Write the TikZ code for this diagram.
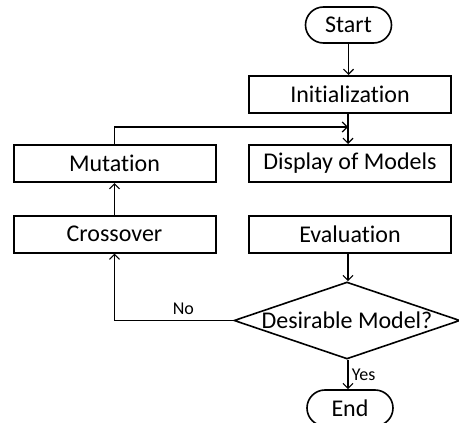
\documentclass[tikz,border=0pt]{standalone}
\usepackage{fontspec}
\setmainfont{Carlito}[Ligatures=NoCommon]
\usetikzlibrary{arrows.meta,shapes.misc,shapes.geometric}

\begin{document}
\begin{tikzpicture}[x=1pt,y=-1pt,>={Straight Barb[length=5pt,width=10pt]},
  font=\fontsize{24}{28}\selectfont,
  stepbox/.style={draw,line width=2pt,minimum width=202pt,minimum height=37pt,inner sep=0pt},
  terminal/.style={draw,rounded rectangle,line width=1.6pt,minimum width=86pt,minimum height=36pt,inner sep=0pt},
  flow/.style={->,line width=1.2pt},
  answer/.style={font=\fontsize{18}{21}\selectfont}]
\useasboundingbox (0,0) rectangle (459,423);

% Nodes
\path (348.5,25)  node[terminal] (Start) {Start}
      (350,94.5)  node[stepbox] (Init) {Initialization}
      (350,163.5) node[stepbox] (Display) {Display of Models}
      (350,234)   node[stepbox] (Eval) {Evaluation}
      (114.5,163.5) node[stepbox] (Mutation) {Mutation}
      (114.5,234)   node[stepbox] (Crossover) {Crossover}
      (347,320.5) node[draw,diamond,line width=1.6pt,aspect=2.93,minimum width=226pt,minimum height=77pt,inner sep=0pt] (Decision) {Desirable Model?}
      (350,408)   node[terminal] (End) {End};
\coordinate (Join) at (348,127);

% Connectors
\draw[flow] (Start) -- (Start |- Init.north);
\draw[flow] (Init.south -| Join) -- (Join |- Display.north);
\draw[flow] (Mutation) |- (Join);
\draw[flow] (Crossover) -- (Mutation);
\draw[flow] (Eval.south -| Join) -- (Join |- Decision.north);
\draw[flow] (Decision.west) -| node[pos=0.21,above=2pt,answer] {No} (Crossover.south);
\draw[flow] (Decision.south -| Join) -- node[right,answer] {Yes} (Join |- End.north);

\end{tikzpicture}
\end{document}
